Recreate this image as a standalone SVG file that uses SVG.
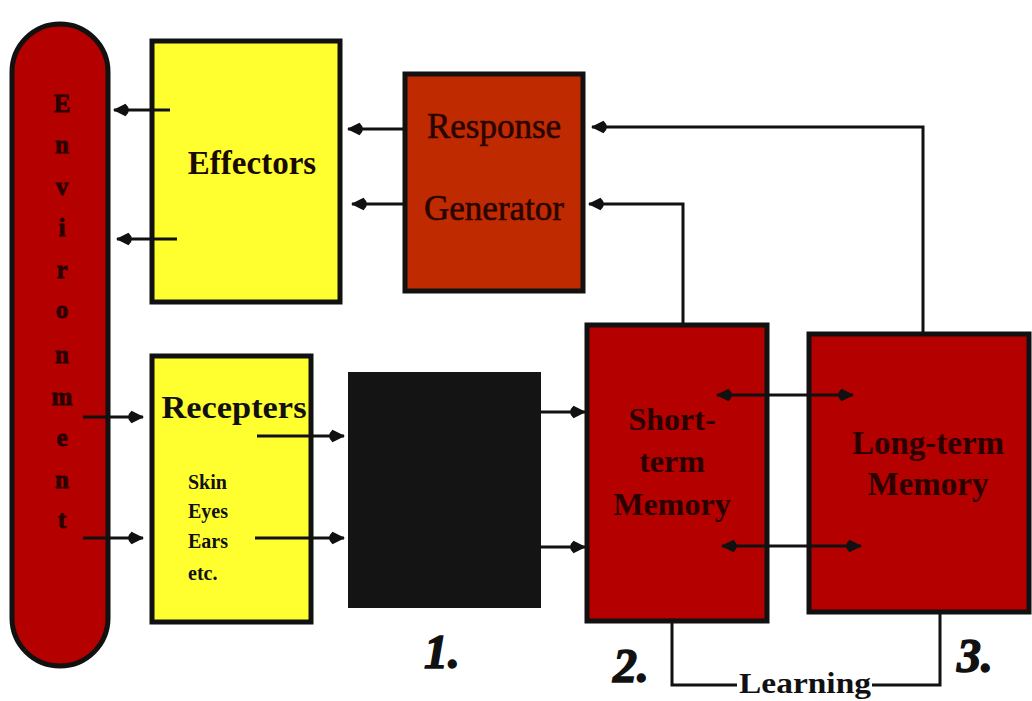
<svg xmlns="http://www.w3.org/2000/svg" width="1032" height="701" viewBox="0 0 1032 701">
<style>
.box{stroke:#111;stroke-width:5}
.red{fill:#b50000}
.yel{fill:#ffff30}
.t{font-family:"Liberation Serif","Times New Roman",serif;font-weight:bold;fill:#2a0000;text-anchor:middle}
.env{font-size:25px;fill:#2a0000;stroke:#2a0000;stroke-width:0.8}
.num{font-family:"Liberation Serif","Times New Roman",serif;font-weight:bold;font-style:italic;font-size:48px;fill:#111;stroke:#111;stroke-width:1.5}
.c{fill:none;stroke:#111;stroke-width:3}
.a{marker-end:url(#ah)}
.d{marker-end:url(#ah);marker-start:url(#ah)}
</style>
<defs>
<marker id="ah" viewBox="0 0 20 12" refX="19" refY="6" markerWidth="23" markerHeight="14" markerUnits="userSpaceOnUse" orient="auto-start-reverse">
<path d="M20,6 L9,0.5 Q3,6 9,11.5 Z" fill="#111"/>
</marker>
</defs>
<rect width="1032" height="701" fill="#fff"/>

<g id="environment">
<rect class="box red" x="12" y="24" width="96" height="642" rx="48"/>
<g class="t env">
<text x="62" y="112">E</text>
<text x="62" y="153">n</text>
<text x="62" y="195">v</text>
<text x="62" y="236">i</text>
<text x="62" y="278">r</text>
<text x="62" y="318">o</text>
<text x="62" y="363">n</text>
<text x="62" y="405">m</text>
<text x="62" y="446">e</text>
<text x="62" y="488">n</text>
<text x="62" y="528">t</text>
</g>
</g>

<g id="effectors">
<rect class="box yel" x="152" y="41" width="188" height="261"/>
<text class="t" x="252" y="174" font-size="33" style="fill:#1a0a00">Effectors</text>
</g>

<g id="response-generator">
<rect class="box" fill="#c02a00" x="405" y="74" width="178" height="217"/>
<text class="t" x="494" y="138" font-size="35" style="font-weight:normal;fill:#2a0500;stroke:#2a0500;stroke-width:0.6">Response</text>
<text class="t" x="494" y="220" font-size="35" style="font-weight:normal;fill:#2a0500;stroke:#2a0500;stroke-width:0.6">Generator</text>
</g>

<g id="receptors">
<rect class="box yel" x="152" y="356" width="159" height="266"/>
<text class="t" x="234" y="418" font-size="31" textLength="145" lengthAdjust="spacingAndGlyphs" style="fill:#111">Recepters</text>
<g class="t" style="text-anchor:start;fill:#111" font-size="20">
<text x="188" y="489">Skin</text>
<text x="188" y="518">Eyes</text>
<text x="188" y="548">Ears</text>
<text x="188" y="580">etc.</text>
</g>
</g>

<g id="sensory-buffer">
<rect x="348" y="372" width="193" height="236" fill="#141414"/>
</g>

<g id="short-term-memory">
<rect class="box red" x="587" y="325" width="180" height="296"/>
<text class="t" x="672" y="430" font-size="32">Short-</text>
<text class="t" x="672" y="472" font-size="32">term</text>
<text class="t" x="672" y="515" font-size="32">Memory</text>
</g>

<g id="long-term-memory">
<rect class="box red" x="809" y="334" width="220" height="278"/>
<text class="t" x="928" y="454" font-size="33">Long-term</text>
<text class="t" x="928" y="495" font-size="33">Memory</text>
</g>

<g id="connectors">
<line class="c a" x1="170" y1="110" x2="114" y2="110"/>
<line class="c a" x1="177" y1="239" x2="117" y2="239"/>
<line class="c a" x1="403" y1="129" x2="348" y2="129"/>
<line class="c a" x1="403" y1="204" x2="352" y2="204"/>
<path class="c a" d="M923,332 V127 H592"/>
<path class="c a" d="M683,323 V204 H589"/>
<line class="c a" x1="83" y1="417" x2="143" y2="417"/>
<line class="c a" x1="83" y1="538" x2="143" y2="538"/>
<line class="c a" x1="257" y1="436" x2="344" y2="436"/>
<line class="c a" x1="255" y1="538" x2="344" y2="538"/>
<line class="c a" x1="541" y1="412" x2="585" y2="412"/>
<line class="c a" x1="541" y1="547" x2="585" y2="547"/>
<line class="c d" x1="717" y1="395" x2="853" y2="395"/>
<line class="c d" x1="722" y1="546" x2="861" y2="546"/>
<path class="c" d="M672,622 V685 H737"/>
<path class="c" d="M872,685 H940 V613"/>
</g>

<g id="labels">
<text class="num" x="424" y="668">1.</text>
<text class="num" x="613" y="682">2.</text>
<text class="num" x="957" y="672">3.</text>
<text class="t" x="805" y="693" font-size="30" textLength="132" lengthAdjust="spacingAndGlyphs" style="fill:#111">Learning</text>
</g>
</svg>
